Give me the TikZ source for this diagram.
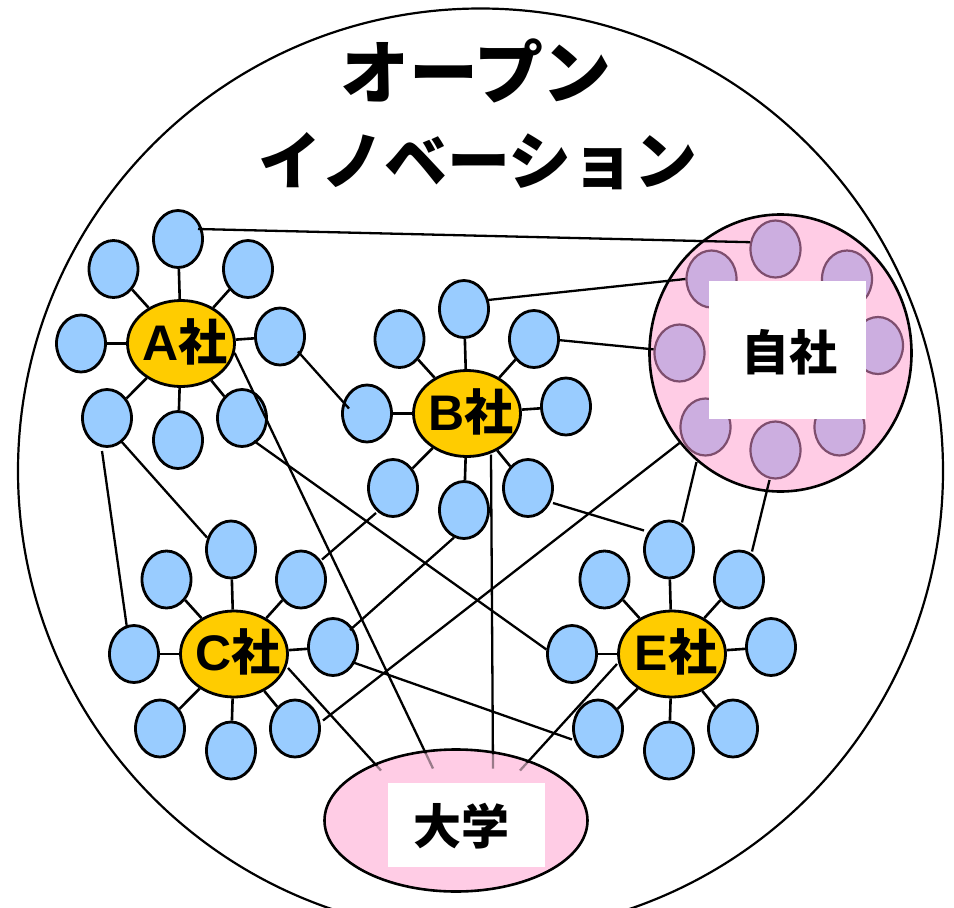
\documentclass[tikz,border=0pt]{standalone}
\usepackage{fontspec}
\newfontfamily\jp{Noto Sans CJK JP}
\newfontfamily\lat{Liberation Sans}
\usetikzlibrary{shapes.geometric,calc}
\definecolor{satblue}{HTML}{99CCFF}
\definecolor{gold}{HTML}{FFCC00}
\definecolor{pinkf}{HTML}{FFCCE5}
\definecolor{purplef}{HTML}{CCAEE0}
\definecolor{purpled}{HTML}{7E4E6E}
\tikzset{
  sat/.style={ellipse, draw=black, line width=2.8pt, fill=satblue, minimum width=49pt, minimum height=57pt, inner sep=0pt},
  corp/.style={ellipse, draw=black, line width=2.8pt, fill=gold, minimum width=107pt, minimum height=86pt, inner sep=0pt},
  corptext/.style={font=\jp\bfseries\fontsize{49}{49}\selectfont, inner sep=0pt},
  pur/.style={ellipse, draw=purpled, line width=2.2pt, fill=purplef, minimum width=50pt, minimum height=57pt, inner sep=0pt},
  spoke/.style={line width=2.6pt},
  link/.style={line width=2.3pt, draw=black},
  bigpink/.style={ellipse, draw=black, line width=2.6pt, fill=pinkf, inner sep=0pt},
  whitebox/.style={fill=white, inner sep=0pt},
  label/.style={font=\jp\bfseries\fontsize{48}{48}\selectfont},
  titleone/.style={font=\jp\bfseries\fontsize{69}{69}\selectfont},
  titletwo/.style={font=\jp\bfseries\fontsize{63}{63}\selectfont},
}
\newcommand\cluster[4]{%
  \begin{scope}[shift={(#2,#3)}]
    \node[sat] (#11) at (-3,-104.5) {};
    \node[sat] (#12) at (-67.5,-74.5) {};
    \node[sat] (#13) at (67,-74.5) {};
    \node[sat] (#14) at (-100,0) {};
    \node[sat] (#15) at (99,-7) {};
    \node[sat] (#16) at (-74,74.5) {};
    \node[sat] (#17) at (-3,96.5) {};
    \node[sat] (#18) at (61,74.5) {};
    \node[corp] (#1) at (0,0) {};
    \node[corptext] (#1t) at (4,-2) {{\lat\bfseries\fontsize{50}{50}\selectfont #4}社};
  \end{scope}
  \foreach \i in {1,...,8} {\draw[spoke] (#1) -- (#1\i);}
}
\begin{document}
\begin{tikzpicture}[x=1pt,y=-1pt]
\clip (0,0) rectangle (954,908);
\fill[white] (0,0) rectangle (954,908);
\node[circle, draw=black, line width=2.2pt, minimum size=925pt, inner sep=0pt] (big) at (480.5,471) {};
\node[titleone] (t1) at (476,71) {オープン};
\node[titletwo] (t2) at (478,161) {イノベーション};

\cluster{A}{181}{343.5}{A}
\cluster{B}{467}{413.5}{B}
\cluster{C}{234}{654}{C}
\cluster{E}{672}{654}{E}

% Jisha
\node[bigpink, minimum width=262pt, minimum height=277pt] (J) at (780.5,353) {};
\node[pur] (J1) at (775.5,249) {};
\node[pur] (J2) at (711.5,279) {};
\node[pur] (J3) at (847,279) {};
\node[pur] (J4) at (679.5,353) {};
\node[pur] (J5) at (878,345.5) {};
\node[pur] (J6) at (705.5,427) {};
\node[pur] (J7) at (775.5,450) {};
\node[pur] (J8) at (839.5,427) {};
\node[whitebox, minimum width=157pt, minimum height=138pt] (Jbox) at (787.5,350) {};
\node[label] (Jt) at (789,352) {自社};

% Daigaku
\node[bigpink, minimum width=263pt, minimum height=142pt] (D) at (456,820.5) {};

% connectors
\draw[link] ($(A1)+(20,-10)$) -- (J1.165);
\draw[link] ($(B1)+(24,-9)$) -- (J2.west);
\draw[link] ($(B3)+(24,1)$) -- (J4.172);
\draw[link] ($(A5)+(18,15)$) -- ($(B4)+(-18,-5)$);
\draw[link] (A.-10) -- ($(D)+(-23,-52)$);
\draw[link] ($(A8)+(12,23)$) -- (E4.170);
\draw[link] ($(A6)+(14,23)$) -- ($(C1)+(-24,-12)$);
\draw[link] ($(A6)+(-5,33)$) -- ($(C4)+(-7,-26)$);
\draw[link] ($(B6)+(-17,25)$) -- ($(C3)+(21,-20)$);
\draw[link] (B7.250) -- ($(C5)+(17,-17)$);
\draw[link] ($(B)+(24,41)$) -- ($(D)+(37,-52)$);
\draw[link] ($(B8)+(25,15)$) -- ($(E1)+(-25,-19)$);
\draw[link] ($(J6)+(-26,16)$) -- ($(C8)+(28,-8)$);
\draw[link] ($(J)+(-84,109)$) -- ($(E1)+(13,-27)$);
\draw[link] ($(J7)+(-6,30)$) -- ($(E3)+(13,-28)$);
\draw[link] ($(C)+(54,14)$) -- ($(D)+(-75,-50)$);
\draw[link] ($(C5)+(19,15)$) -- ($(E6)+(-26,11)$);
\draw[link] ($(E)+(-55,10)$) -- ($(D)+(64,-50)$);

% tint over line ends inside Daigaku
\fill[pinkf, fill opacity=0.6] (D.center) ellipse [x radius=129.5pt, y radius=69pt];
\node[whitebox, minimum width=157pt, minimum height=84pt] (Dbox) at (466.5,825) {};
\node[label] (Dt) at (461.5,826) {大学};
\end{tikzpicture}
\end{document}
